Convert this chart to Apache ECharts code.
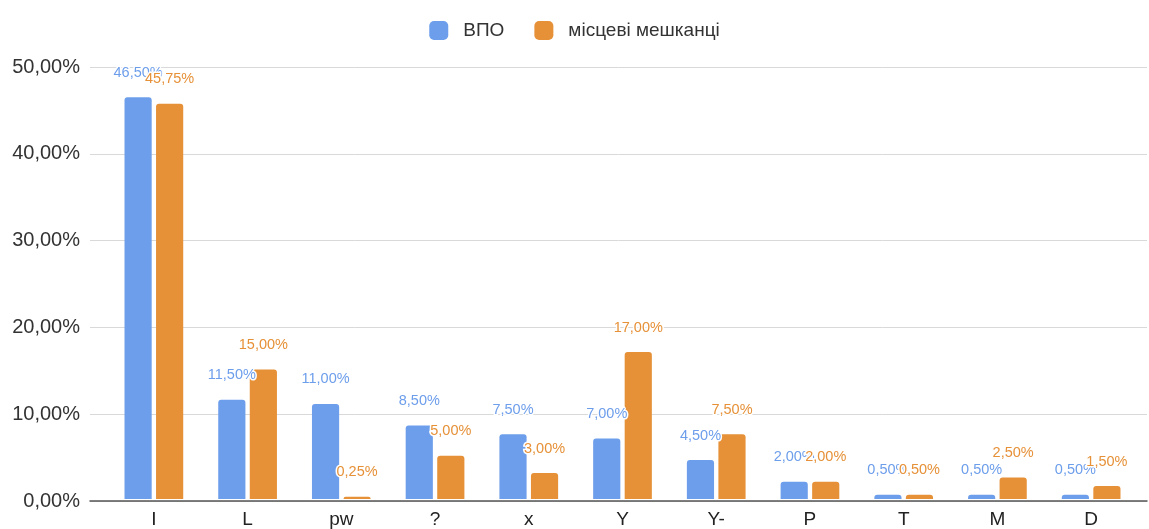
<!DOCTYPE html>
<html><head><meta charset="utf-8">
<script src="https://cdn.jsdelivr.net/npm/echarts@6/dist/echarts.min.js"></script>
<style>html,body{margin:0;padding:0;background:#fff}#c{width:1149px;height:529px}</style>
</head><body><div id="c"></div>
<script>
const categories = ['I','L','pw','?','x','Y','Y-','P','T','M','D'];
const vpo = [46.5, 11.5, 11, 8.5, 7.5, 7, 4.5, 2, 0.5, 0.5, 0.5];
const local = [45.75, 15, 0.25, 5, 3, 17, 7.5, 2, 0.5, 2.5, 1.5];
const seriesNames = ['ВПО', 'місцеві мешканці'];
const yTicks = [0, 10, 20, 30, 40, 50];

const fmt = v => v.toFixed(2).replace('.', ',') + '%';
const font = '"Liberation Sans", Arial, sans-serif';
const chart = echarts.init(document.getElementById('c'));
const lbl = color => ({
  show: true, position: 'top', distance: 17, color: color, fontSize: 14.5, fontFamily: font,
  textBorderColor: '#fff', textBorderWidth: 3,
  formatter: p => fmt(p.value)
});
chart.setOption({
  animation: false,
  textStyle: { fontFamily: font },
  legend: {
    top: 16, left: 'center', itemWidth: 19, itemHeight: 19, itemGap: 30,
    icon: 'roundRect',
    textStyle: { fontSize: 19, color: '#333', fontFamily: font, padding: [0, 0, 0, 10] },
    data: seriesNames
  },
  grid: [
    { left: 90, right: 2, top: 67, bottom: 28 },
    { left: 107, right: 11, top: 67, bottom: 28 }
  ],
  xAxis: [
    { type: 'category', gridIndex: 0, data: categories, show: true,
      axisLabel: { show: false }, axisTick: { show: false },
      axisLine: { lineStyle: { color: '#555', width: 1.5 } } },
    { type: 'category', gridIndex: 1, data: categories,
      axisLine: { show: false }, axisTick: { show: false },
      axisLabel: { fontSize: 19, color: '#222', margin: 11, fontFamily: font } }
  ],
  yAxis: [
    { type: 'value', gridIndex: 0, min: yTicks[0], max: yTicks[yTicks.length-1], interval: 10,
      axisLine: { show: false }, axisTick: { show: false },
      axisLabel: { fontSize: 20, color: '#333', margin: 10, formatter: v => fmt(v), fontFamily: font },
      splitLine: { lineStyle: { color: '#d9d9d9', width: 1 } } },
    { type: 'value', gridIndex: 1, min: 0, max: 50, interval: 10, show: false, splitLine: { show: false } }
  ],
  series: [
    { name: seriesNames[0], type: 'bar', xAxisIndex: 1, yAxisIndex: 1, data: vpo,
      barWidth: '29%', barGap: '16%', itemStyle: { color: '#6d9eeb', borderRadius: [3,3,0,0] },
      label: lbl('#6d9eeb') },
    { name: seriesNames[1], type: 'bar', xAxisIndex: 1, yAxisIndex: 1, data: local,
      barWidth: '29%', barGap: '16%', itemStyle: { color: '#e69138', borderRadius: [3,3,0,0] },
      label: lbl('#e69138') }
  ]
});
</script></body></html>
